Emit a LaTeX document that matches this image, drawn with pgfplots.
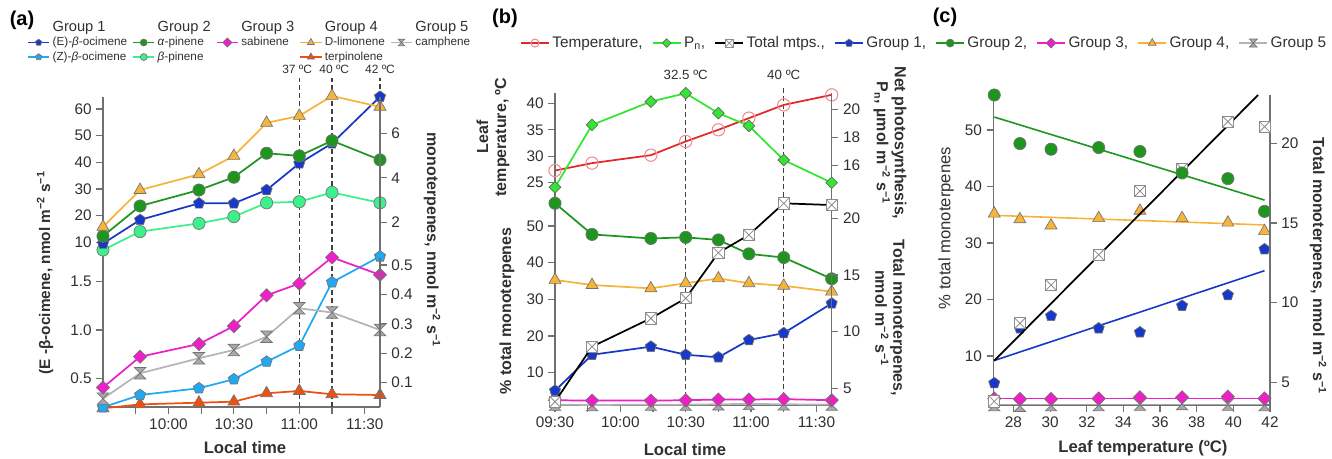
\documentclass[border=0pt]{standalone}
\usepackage{fontspec}
\setmainfont{Liberation Sans}
\usepackage{pgfplots}
\pgfplotsset{compat=1.18}
\usetikzlibrary{plotmarks}

\definecolor{cB}{HTML}{1838C8}
\definecolor{cLB}{HTML}{22A8F0}
\definecolor{cG}{HTML}{1E961E}
\definecolor{cLG}{HTML}{3CF08C}
\definecolor{cM}{HTML}{F01EC8}
\definecolor{cO}{HTML}{F7B43A}
\definecolor{cR}{HTML}{F0500F}
\definecolor{cGr}{HTML}{A8A8A8}
\definecolor{cT}{HTML}{E02828}
\definecolor{cTm}{HTML}{F08C8C}
\definecolor{cPn}{HTML}{32E632}
\definecolor{cAx}{HTML}{707070}
\definecolor{cTx}{HTML}{303030}

\pgfdeclareplotmark{hourglass}{%
  \pgfpathmoveto{\pgfqpoint{-\pgfplotmarksize}{\pgfplotmarksize}}%
  \pgfpathlineto{\pgfqpoint{\pgfplotmarksize}{\pgfplotmarksize}}%
  \pgfpathlineto{\pgfqpoint{-\pgfplotmarksize}{-\pgfplotmarksize}}%
  \pgfpathlineto{\pgfqpoint{\pgfplotmarksize}{-\pgfplotmarksize}}%
  \pgfpathclose
  \pgfusepathqfillstroke}
\pgfdeclareplotmark{sqx}{%
  \pgfpathrectangle{\pgfqpoint{-\pgfplotmarksize}{-\pgfplotmarksize}}{\pgfqpoint{2\pgfplotmarksize}{2\pgfplotmarksize}}%
  \pgfusepathqfillstroke
  \pgfpathmoveto{\pgfqpoint{-\pgfplotmarksize}{-\pgfplotmarksize}}%
  \pgfpathlineto{\pgfqpoint{\pgfplotmarksize}{\pgfplotmarksize}}%
  \pgfpathmoveto{\pgfqpoint{-\pgfplotmarksize}{\pgfplotmarksize}}%
  \pgfpathlineto{\pgfqpoint{\pgfplotmarksize}{-\pgfplotmarksize}}%
  \pgfusepathqstroke}

\pgfplotsset{
  base/.style={
    scale only axis, clip=false, anchor=south west,
    axis line style={draw=cAx, line width=0.9pt},
    every tick/.style={draw=cAx, line width=0.9pt},
    major tick length=5pt, minor tick length=5pt,
    tick align=outside,
    tick label style={font=\fontsize{11.5}{13}\selectfont, text=cTx},
    /pgf/number format/assume math mode=true,
  },
  mo/.style={mark options={solid, fill=#1, draw=black!55, line width=0.5pt}},
  sE/.style={draw=cB, line width=1.3pt, mark=pentagon*, mark size=4.4pt, mo=cB},
  sZ/.style={draw=cLB, line width=1.3pt, mark=pentagon*, mark size=4.4pt, mo=cLB},
  sA/.style={draw=cG, line width=1.3pt, mark=*, mark size=4.6pt, mo=cG},
  sBp/.style={draw=cLG, line width=1.3pt, mark=*, mark size=4.6pt, mo=cLG},
  sS/.style={draw=cM, line width=1.3pt, mark=square*, mark size=3.5pt, mark options={solid, fill=cM, draw=black!55, line width=0.5pt, rotate=45}},
  sD/.style={draw=cO, line width=1.3pt, mark=triangle*, mark size=5.2pt, mo=cO},
  sT/.style={draw=cR, line width=1.3pt, mark=triangle*, mark size=5.2pt, mo=cR},
  sC/.style={draw=cGr!85, line width=1.3pt, mark=hourglass, mark size=4.3pt, mo=cGr},
  sTemp/.style={draw=cT, line width=1.3pt, mark=o, mark size=4.6pt, mark options={solid, draw=cTm, line width=0.8pt}},
  sPn/.style={draw=cPn, line width=1.3pt, mark=square*, mark size=3.1pt, mark options={solid, fill=cPn, draw=black!60, line width=0.5pt, rotate=45}},
  sTot/.style={draw=black, line width=1.3pt, mark=sqx, mark size=4.2pt, mark options={solid, fill=white, draw=black!45, line width=0.6pt}},
  dashl/.style={draw=black!75, line width=0.8pt, dash pattern=on 3.5pt off 2.5pt},
}

\begin{document}
\begin{tikzpicture}
\useasboundingbox (0pt,0pt) rectangle (999pt,343.5pt);

%================ PANEL (a) upper ================
\begin{axis}[base, at={(77.25pt,150pt)}, width=207.75pt, height=120.75pt,
  xmin=0, xmax=127, ymin=4.1, ymax=64.5,
  axis x line=none, axis y line*=left, xtick=\empty,
  ytick={10,20,30,40,50,60},
  legend columns=5,
  legend cell align=left,
  legend style={at={(-0.274,1.49)}, anchor=north west, draw=none, fill=none,
    font=\fontsize{8.8}{10}\selectfont, text=cTx, inner sep=0pt, row sep=-1pt,
    nodes={inner xsep=2pt},
    /tikz/every even column/.append style={column sep=2pt}},
  legend image code/.code={\draw[mark repeat=2,mark phase=2,#1] plot coordinates {(0cm,0cm) (0.28cm,0cm) (0.56cm,0cm)};},
]
\addlegendimage{empty legend}\addlegendentry{\fontsize{11}{12}\selectfont Group 1}
\addlegendimage{empty legend}\addlegendentry{\fontsize{11}{12}\selectfont Group 2}
\addlegendimage{empty legend}\addlegendentry{\fontsize{11}{12}\selectfont Group 3}
\addlegendimage{empty legend}\addlegendentry{\fontsize{11}{12}\selectfont Group 4}
\addlegendimage{empty legend}\addlegendentry{\fontsize{11}{12}\selectfont Group 5}
\addlegendimage{sE, line width=1pt, mark size=2.5pt}\addlegendentry{(E)-\textit{β}-ocimene}
\addlegendimage{sA, line width=1pt, mark size=2.6pt}\addlegendentry{\textit{α}-pinene}
\addlegendimage{sS, line width=1pt, mark size=2.4pt}\addlegendentry{sabinene}
\addlegendimage{sD, line width=1pt, mark size=3pt}\addlegendentry{D-limonene}
\addlegendimage{sC, line width=1pt, mark size=2.5pt}\addlegendentry{camphene}
\addlegendimage{sZ, line width=1pt, mark size=2.5pt}\addlegendentry{(Z)-\textit{β}-ocimene}
\addlegendimage{sBp, line width=1pt, mark size=2.6pt}\addlegendentry{\textit{β}-pinene}
\addlegendimage{empty legend}\addlegendentry{}
\addlegendimage{sT, line width=1pt, mark size=3pt}\addlegendentry{terpinolene}
\addlegendimage{empty legend}\addlegendentry{}
\addplot[dashl, forget plot] coordinates {(90,4.1) (90,71.6)};
\addplot[dashl, forget plot] coordinates {(105,4.1) (105,71.6)};
\addplot[dashl, forget plot] coordinates {(127,64.5) (127,71.6)};
\addplot[sBp, forget plot] coordinates {(0,7.1)(17,14)(44,17.1)(60,19.6)(75,24.8)(90,25.2)(105,28.7)(127,24.8)};
\addplot[sE, forget plot] coordinates {(0,9.5)(17,18.4)(44,24.6)(60,24.6)(75,29.6)(90,39.6)(105,47.1)(127,64.6)};
\addplot[sA, forget plot] coordinates {(0,12.3)(17,23.6)(44,29.6)(60,34.4)(75,43.4)(90,42.4)(105,48.1)(127,40.9)};
\addplot[sD, forget plot] coordinates {(0,15.8)(17,29.6)(44,35.5)(60,42.4)(75,54.8)(90,57.4)(105,64.9)(127,60.8)};
\node[font=\fontsize{9}{10}\selectfont, text=cTx] at (axis cs:89,74.8) {37 ºC};
\node[font=\fontsize{9}{10}\selectfont, text=cTx] at (axis cs:106,74.8) {40 ºC};
\node[font=\fontsize{9}{10}\selectfont, text=cTx] at (axis cs:127,74.8) {42 ºC};
\end{axis}
\begin{axis}[base, at={(77.25pt,150pt)}, width=207.75pt, height=120.75pt,
  xmin=0, xmax=127, ymin=0.40, ymax=7.63,
  axis x line=none, axis y line*=right, xtick=\empty,
  ytick={2,4,6}]
\end{axis}

%================ PANEL (a) lower ================
\begin{axis}[base, at={(77.25pt,38.25pt)}, width=207.75pt, height=111.75pt,
  xmin=0, xmax=127, ymin=0.203, ymax=1.744,
  axis x line*=bottom, axis y line*=left,
  xtick={30,60,90,120}, xticklabels={10:00,10:30,11:00,11:30}, minor xtick={15,45,75,105},
  ytick={0.5,1,1.5}, yticklabels={0.5,1.0,1.5}]
\addplot[dashl] coordinates {(90,0.203) (90,1.744)};
\addplot[dashl] coordinates {(105,0.203) (105,1.744)};
\addplot[sT] coordinates {(0,0.19)(17,0.23)(44,0.248)(60,0.258)(75,0.345)(90,0.369)(105,0.335)(127,0.327)};
\addplot[sZ] coordinates {(0,0.2)(17,0.327)(44,0.397)(60,0.49)(75,0.672)(90,0.837)(105,1.493)(127,1.76)};
\addplot[sC] coordinates {(0,0.29)(17,0.552)(44,0.707)(60,0.793)(75,0.93)(90,1.224)(105,1.18)(127,1.0)};
\addplot[sS] coordinates {(0,0.405)(17,0.723)(44,0.855)(60,1.04)(75,1.358)(90,1.48)(105,1.75)(127,1.57)};
\end{axis}
\begin{axis}[base, at={(77.25pt,38.25pt)}, width=207.75pt, height=111.75pt,
  xmin=0, xmax=127, ymin=0.0173, ymax=0.524,
  axis x line=none, axis y line*=right, xtick=\empty,
  ytick={0.1,0.2,0.3,0.4,0.5}, yticklabels={0.1,0.2,0.3,0.4,0.5}]
\end{axis}

%================ PANEL (b) upper ================
\begin{axis}[base, at={(416.25pt,195.75pt)}, width=207.5pt, height=77.8pt,
  xmin=0, xmax=127, ymin=22.3, ymax=41.9,
  axis x line=none, axis y line*=left, xtick=\empty,
  ytick={25,30,35,40}]
\addplot[dashl] coordinates {(60,22.3) (60,43.45)};
\addplot[dashl] coordinates {(105,22.3) (105,43.45)};
\addplot[sTemp] coordinates {(0,27.3)(17,28.7)(44,30.2)(60,32.8)(75,35)(89,37.2)(105,39.7)(127,41.6)};
\node[font=\fontsize{10}{11}\selectfont, text=cTx] at (axis cs:60,45.3) {32.5 ºC};
\node[font=\fontsize{10}{11}\selectfont, text=cTx] at (axis cs:105,45.3) {40 ºC};
\end{axis}
\begin{axis}[base, at={(416.25pt,195.75pt)}, width=207.5pt, height=77.8pt,
  xmin=0, xmax=127, ymin=13.78, ymax=21.13,
  axis x line=none, axis y line*=right, xtick=\empty,
  ytick={16,18,20}]
\addplot[sPn] coordinates {(0,14.47)(17,18.89)(44,20.54)(60,21.13)(75,19.72)(89,18.82)(105,16.40)(127,14.79)};
\end{axis}

%================ PANEL (b) lower ================
\begin{axis}[base, at={(416.25pt,39.75pt)}, width=207.5pt, height=156pt,
  xmin=0, xmax=127, ymin=1.2, ymax=57.9,
  axis x line*=bottom, axis y line*=left,
  xtick={0,30,60,90,120}, xticklabels={09:30,10:00,10:30,11:00,11:30}, minor xtick={15,45,75,105},
  ytick={10,20,30,40,50},
  legend columns=-1,
  legend style={at={(-0.1265,1.740)}, anchor=west, draw=none, fill=none,
    font=\fontsize{11.5}{13}\selectfont, text=cTx, inner sep=0pt,
    /tikz/every even column/.append style={column sep=5pt}},
  legend image code/.code={\draw[mark repeat=2,mark phase=2,#1] plot coordinates {(0cm,0cm) (0.37cm,0cm) (0.74cm,0cm)};},
]
\addlegendimage{sTemp, line width=1pt, mark size=3pt}\addlegendentry{Temperature,}
\addlegendimage{sPn, line width=1pt, mark size=2.3pt}\addlegendentry{P\textsubscript{n},}
\addlegendimage{sTot, line width=1pt, mark size=3pt}\addlegendentry{Total mtps.,}
\addlegendimage{sE, line width=1pt, mark size=3pt}\addlegendentry{Group 1,}
\addlegendimage{sA, line width=1pt, mark size=3pt}\addlegendentry{Group 2,}
\addlegendimage{sS, line width=1pt, mark size=2.6pt}\addlegendentry{Group 3,}
\addlegendimage{sD, line width=1pt, mark size=3.4pt}\addlegendentry{Group 4,}
\addlegendimage{sC, line width=1pt, mark size=3pt}\addlegendentry{Group 5}
\addplot[dashl, forget plot] coordinates {(60,1.2) (60,57.9)};
\addplot[dashl, forget plot] coordinates {(105,1.2) (105,57.9)};
\addplot[sC, forget plot] coordinates {(0,1.3)(17,1.2)(44,1.3)(60,1.3)(75,1.4)(89,1.5)(105,1.4)(127,1.3)};
\addplot[sS, forget plot] coordinates {(0,2.5)(17,2.4)(44,2.4)(60,2.5)(75,2.7)(89,2.7)(105,2.8)(127,2.5)};
\addplot[sD, forget plot] coordinates {(0,35.3)(17,33.9)(44,33.0)(60,34.4)(75,35.7)(89,34.4)(105,33.7)(127,32.1)};
\addplot[sA, forget plot] coordinates {(0,56.2)(17,47.7)(44,46.6)(60,46.9)(75,46.2)(89,42.4)(105,41.4)(127,35.6)};
\addplot[sE, forget plot] coordinates {(0,5.1)(17,14.9)(44,17.1)(60,14.9)(75,14.2)(89,18.9)(105,20.8)(127,28.9)};
\end{axis}
\begin{axis}[base, at={(416.25pt,39.75pt)}, width=207.5pt, height=156pt,
  xmin=0, xmax=127, ymin=3.52, ymax=21.88,
  axis x line=none, axis y line*=right, xtick=\empty,
  ytick={5,10,15,20}]
\addplot[sTot] coordinates {(0,3.81)(17,8.67)(44,11.17)(60,12.94)(75,16.96)(89,18.53)(105,21.32)(127,21.17)};
\end{axis}

%================ PANEL (c) ================
\begin{axis}[base, at={(745pt,39.75pt)}, width=207.5pt, height=232.5pt,
  xmin=26.9, xmax=42, ymin=1.33, ymax=56.2,
  axis x line*=bottom, axis y line*=left,
  xtick={28,30,32,34,36,38,40,42},
  ytick={10,20,30,40,50}]
\addplot[draw=cGr, line width=1.2pt] coordinates {(26.95,1.4) (41.7,1.4)};
\addplot[draw=cM, line width=1.2pt] coordinates {(26.95,2.5) (41.7,2.5)};
\addplot[draw=cO, line width=1.2pt] coordinates {(26.95,34.9) (41.7,33.2)};
\addplot[draw=cG, line width=1.2pt] coordinates {(26.95,52.3) (41.7,37.6)};
\addplot[draw=cB, line width=1.2pt] coordinates {(26.95,9.2) (41.7,25.1)};
\addplot[sC, only marks] coordinates {(26.95,1.3)(28.35,1.2)(30.05,1.3)(32.65,1.3)(34.9,1.4)(37.2,1.5)(39.7,1.4)(41.7,1.3)};
\addplot[sS, only marks] coordinates {(26.95,2.5)(28.35,2.4)(30.05,2.4)(32.65,2.5)(34.9,2.7)(37.2,2.7)(39.7,2.8)(41.7,2.5)};
\addplot[sD, only marks] coordinates {(26.95,35.2)(28.35,34.2)(30.05,33.1)(32.65,34.4)(34.9,35.7)(37.2,34.4)(39.7,33.6)(41.7,32.1)};
\addplot[sE, only marks] coordinates {(26.95,5.2)(28.35,14.9)(30.05,17.1)(32.65,14.9)(34.9,14.2)(37.2,18.9)(39.7,20.8)(41.7,28.9)};
\end{axis}
\begin{axis}[base, at={(745pt,39.75pt)}, width=207.5pt, height=232.5pt,
  xmin=26.9, xmax=42, ymin=3.57, ymax=23.03,
  axis x line=none, axis y line*=right, xtick=\empty,
  ytick={5,10,15,20}]
\addplot[sTot, only marks] coordinates {(26.95,3.8)(28.35,8.7)(30.05,11.1)(32.65,13.0)(34.9,17.0)(37.2,18.4)(39.7,21.36)(41.7,21.04)};
\addplot[draw=black, line width=1.3pt] coordinates {(26.95,6.35) (41.35,23.03)};
\end{axis}
\begin{axis}[base, at={(745pt,39.75pt)}, width=207.5pt, height=232.5pt,
  xmin=26.9, xmax=42, ymin=1.33, ymax=56.2,
  axis x line=none, axis y line=none, xtick=\empty, ytick=\empty]
\addplot[sA, only marks] coordinates {(26.95,56.2)(28.35,47.6)(30.05,46.6)(32.65,46.9)(34.9,46.2)(37.2,42.4)(39.7,41.4)(41.7,35.6)};
\end{axis}

%================ labels ================
\node[font=\bfseries\fontsize{15}{16}\selectfont, text=black] at (16.5pt,328.5pt) {(a)};
\node[font=\bfseries\fontsize{15}{16}\selectfont, text=black] at (378.75pt,330pt) {(b)};
\node[font=\bfseries\fontsize{15}{16}\selectfont, text=black] at (708.75pt,330.75pt) {(c)};

\node[font=\bfseries\fontsize{11.5}{13}\selectfont, text=cTx, rotate=90] at (33.75pt,139pt) {(E -β-ocimene, nmol m\textsuperscript{−2} s\textsuperscript{−1}};
\node[font=\bfseries\fontsize{12}{13}\selectfont, text=cTx, rotate=-90] at (324pt,163.5pt) {monoterpenes, nmol m\textsuperscript{−2} s\textsuperscript{−1}};
\node[font=\bfseries\fontsize{12.5}{14}\selectfont, text=cTx] at (183.75pt,7.5pt) {Local time};

\node[font=\bfseries\fontsize{12}{13.5}\selectfont, text=cTx, rotate=90, align=center] at (369.75pt,240.75pt) {Leaf\\temperature, ºC};
\node[font=\bfseries\fontsize{12}{13}\selectfont, text=cTx, rotate=90] at (380.25pt,110.25pt) {\% total monoterpenes};
\node[font=\bfseries\fontsize{12}{13.5}\selectfont, text=cTx, rotate=-90, align=center] at (667.5pt,236.25pt) {Net photosynthesis,\\P\textsubscript{n}, µmol m\textsuperscript{−2} s\textsuperscript{−1}};
\node[font=\bfseries\fontsize{12}{13.5}\selectfont, text=cTx, rotate=-90, align=center] at (667.5pt,105pt) {Total monoterpenes,\\nmol m\textsuperscript{−2} s\textsuperscript{−1}};
\node[font=\bfseries\fontsize{12.5}{14}\selectfont, text=cTx] at (513.75pt,6pt) {Local time};

\node[font=\fontsize{12.5}{14}\selectfont, text=cTx, rotate=90] at (709.5pt,172.5pt) {\% total monoterpenes};
\node[font=\bfseries\fontsize{12}{13}\selectfont, text=cTx, rotate=-90] at (988.5pt,144pt) {Total monoterpenes, nmol m\textsuperscript{−2} s\textsuperscript{−1}};
\node[font=\bfseries\fontsize{12.5}{14}\selectfont, text=cTx] at (857.25pt,7.5pt) {Leaf temperature (ºC)};
\end{tikzpicture}
\end{document}
